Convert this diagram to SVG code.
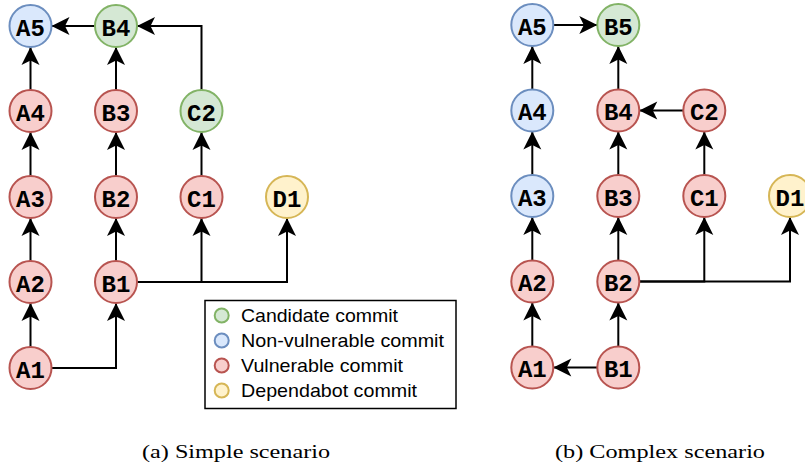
<svg xmlns="http://www.w3.org/2000/svg" width="805" height="470" viewBox="0 0 805 470">
<style>
.n circle{stroke-width:2}
.n text{font-family:"Liberation Mono","Courier New",monospace;font-weight:bold;font-size:24px;text-anchor:middle;fill:#000}
.g{fill:#d5e8d4;stroke:#82b366}
.b{fill:#dae8fc;stroke:#6c8ebf}
.r{fill:#f8cecc;stroke:#b85450}
.y{fill:#fff2cc;stroke:#d6b656}
.e path{fill:none;stroke:#000;stroke-width:2}
.e path.a{marker-end:url(#arr)}
.lg text{font-family:"Liberation Sans",Arial,sans-serif;font-size:19px;fill:#000}
.lg circle{stroke-width:2}
.cap{font-family:"Liberation Serif","Times New Roman",serif;font-size:19px;text-anchor:middle;fill:#000}
</style>
<defs>
<marker id="arr" markerUnits="userSpaceOnUse" markerWidth="18" markerHeight="18" refX="18" refY="9" orient="auto" overflow="visible">
<path d="M0,0 L18,9 L0,18 L4.5,9 Z" fill="#000"/>
</marker>
</defs>
<rect width="805" height="470" fill="#fff"/>
<g class="e" id="connectors">
<!-- left -->
<path class="a" d="M30.5,347 V303"/>
<path class="a" d="M30.5,261 V218"/>
<path class="a" d="M30.5,176 V132"/>
<path class="a" d="M30.5,90 V47"/>
<path class="a" d="M51.5,368 H116 V303"/>
<path class="a" d="M116,261 V218"/>
<path class="a" d="M116,176 V132"/>
<path class="a" d="M116,90 V47"/>
<path class="a" d="M95,26 H51.5"/>
<path class="a" d="M201.5,90 V26 H137"/>
<path class="a" d="M201.5,176 V132"/>
<path class="a" d="M137,282 H201.5 V218"/>
<path class="a" d="M137,282 H287 V218"/>
<!-- right -->
<path class="a" d="M532.3,346.5 V302.5"/>
<path class="a" d="M532.3,260.5 V217"/>
<path class="a" d="M532.3,175 V131.5"/>
<path class="a" d="M532.3,89.5 V46"/>
<path class="a" d="M553.3,25 H597.3"/>
<path class="a" d="M618.3,346.5 V302.5"/>
<path class="a" d="M618.3,260.5 V217"/>
<path class="a" d="M618.3,175 V131.5"/>
<path class="a" d="M618.3,89.5 V46"/>
<path class="a" d="M683.3,110.5 H639.3"/>
<path class="a" d="M704.3,175 V131.5"/>
<path class="a" d="M597.3,367.5 H553.3"/>
<path class="a" d="M639.3,281.5 H704.3 V217"/>
<path class="a" d="M639.3,281.5 H790 V217"/>
</g>
<!-- left nodes -->
<g class="n" id="L-A5"><circle class="b" cx="30.5" cy="26" r="21"/><text x="30.5" y="35.5">A5</text></g>
<g class="n" id="L-A4"><circle class="r" cx="30.5" cy="111" r="21"/><text x="30.5" y="120.5">A4</text></g>
<g class="n" id="L-A3"><circle class="r" cx="30.5" cy="197" r="21"/><text x="30.5" y="206.5">A3</text></g>
<g class="n" id="L-A2"><circle class="r" cx="30.5" cy="282" r="21"/><text x="30.5" y="291.5">A2</text></g>
<g class="n" id="L-A1"><circle class="r" cx="30.5" cy="368" r="21"/><text x="30.5" y="377.5">A1</text></g>
<g class="n" id="L-B4"><circle class="g" cx="116" cy="26" r="21"/><text x="116" y="35.5">B4</text></g>
<g class="n" id="L-B3"><circle class="r" cx="116" cy="111" r="21"/><text x="116" y="120.5">B3</text></g>
<g class="n" id="L-B2"><circle class="r" cx="116" cy="197" r="21"/><text x="116" y="206.5">B2</text></g>
<g class="n" id="L-B1"><circle class="r" cx="116" cy="282" r="21"/><text x="116" y="291.5">B1</text></g>
<g class="n" id="L-C2"><circle class="g" cx="201.5" cy="111" r="21"/><text x="201.5" y="120.5">C2</text></g>
<g class="n" id="L-C1"><circle class="r" cx="201.5" cy="197" r="21"/><text x="201.5" y="206.5">C1</text></g>
<g class="n" id="L-D1"><circle class="y" cx="287" cy="197" r="21"/><text x="287" y="206.5">D1</text></g>
<!-- right nodes -->
<g class="n" id="R-A5"><circle class="b" cx="532.3" cy="25" r="21"/><text x="532.3" y="34.5">A5</text></g>
<g class="n" id="R-A4"><circle class="b" cx="532.3" cy="110.5" r="21"/><text x="532.3" y="120">A4</text></g>
<g class="n" id="R-A3"><circle class="b" cx="532.3" cy="196" r="21"/><text x="532.3" y="205.5">A3</text></g>
<g class="n" id="R-A2"><circle class="r" cx="532.3" cy="281.5" r="21"/><text x="532.3" y="291">A2</text></g>
<g class="n" id="R-A1"><circle class="r" cx="532.3" cy="367.5" r="21"/><text x="532.3" y="377">A1</text></g>
<g class="n" id="R-B5"><circle class="g" cx="618.3" cy="25" r="21"/><text x="618.3" y="34.5">B5</text></g>
<g class="n" id="R-B4"><circle class="r" cx="618.3" cy="110.5" r="21"/><text x="618.3" y="120">B4</text></g>
<g class="n" id="R-B3"><circle class="r" cx="618.3" cy="196" r="21"/><text x="618.3" y="205.5">B3</text></g>
<g class="n" id="R-B2"><circle class="r" cx="618.3" cy="281.5" r="21"/><text x="618.3" y="291">B2</text></g>
<g class="n" id="R-B1"><circle class="r" cx="618.3" cy="367.5" r="21"/><text x="618.3" y="377">B1</text></g>
<g class="n" id="R-C2"><circle class="r" cx="704.3" cy="110.5" r="21"/><text x="704.3" y="120">C2</text></g>
<g class="n" id="R-C1"><circle class="r" cx="704.3" cy="196" r="21"/><text x="704.3" y="205.5">C1</text></g>
<g class="n" id="R-D1"><circle class="y" cx="790" cy="196" r="21"/><text x="790" y="205.5">D1</text></g>
<!-- legend -->
<g class="lg" id="legend">
<rect x="205" y="300.5" width="251" height="108" fill="#fff" stroke="#000" stroke-width="1.5"/>
<circle class="g" cx="221.7" cy="315.5" r="7"/><text x="241" y="322" textLength="157" lengthAdjust="spacingAndGlyphs">Candidate commit</text>
<circle class="b" cx="221.7" cy="340.5" r="7"/><text x="241" y="347" textLength="203" lengthAdjust="spacingAndGlyphs">Non-vulnerable commit</text>
<circle class="r" cx="221.7" cy="365.5" r="7"/><text x="241" y="372" textLength="162" lengthAdjust="spacingAndGlyphs">Vulnerable commit</text>
<circle class="y" cx="221.7" cy="390.5" r="7"/><text x="241" y="397" textLength="176" lengthAdjust="spacingAndGlyphs">Dependabot commit</text>
</g>
<text class="cap" x="236" y="458" textLength="188" lengthAdjust="spacingAndGlyphs">(a) Simple scenario</text>
<text class="cap" x="660" y="458" textLength="210" lengthAdjust="spacingAndGlyphs">(b) Complex scenario</text>
</svg>
